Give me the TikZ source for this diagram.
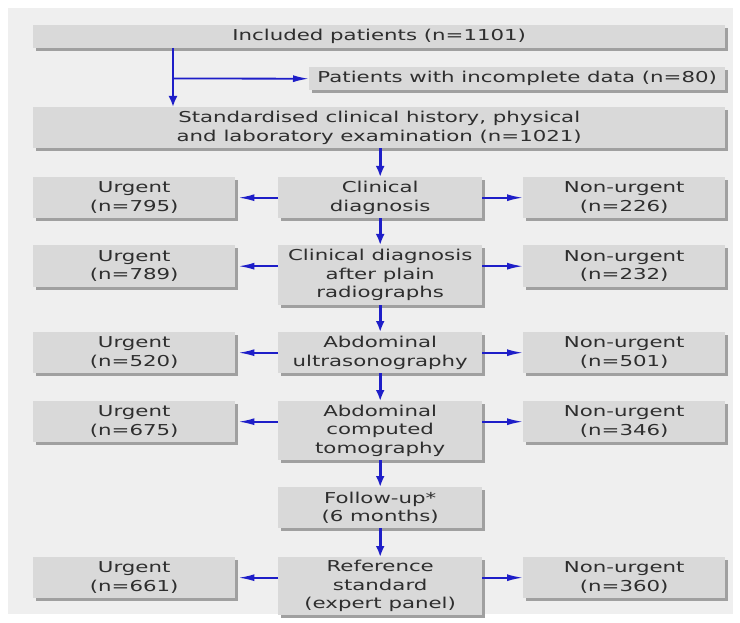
\documentclass[tikz,border=0pt]{standalone}
\usepackage{fontspec}
\setmainfont{DejaVu Sans}[FakeStretch=1.42]
\usetikzlibrary{arrows.meta}
\definecolor{panelbg}{HTML}{EFEFEF}
\definecolor{boxfill}{HTML}{D9D9D9}
\definecolor{boxshadow}{HTML}{A0A0A0}
\definecolor{arrowblue}{RGB}{30,30,200}
\definecolor{txt}{HTML}{2E2E2E}
\begin{document}
\begin{tikzpicture}[x=1pt,y=-1pt,
  box/.style={draw=none, fill=boxfill, text=txt, inner sep=0pt, align=center,
    anchor=north west, font=\fontsize{15}{18.5}\selectfont,
    preaction={fill=boxshadow, transform canvas={shift={(3pt,-3pt)}}}},
  varr/.style={draw=arrowblue, line width=2.6pt, -{Latex[length=11pt,width=9pt]}},
  harr/.style={draw=arrowblue, line width=1.8pt, -{Latex[length=16pt,width=7pt]}}]
\useasboundingbox (0,0) rectangle (740,623);
\fill[white] (0,0) rectangle (740,623);
\fill[panelbg] (8,8) rectangle (733,614);

\node[box, minimum width=692pt, minimum height=23pt] (inc) at (33,25) {Included patients (n=1101)};
\node[box, minimum width=416pt, minimum height=23pt] (inco) at (309,67) {Patients with incomplete data (n=80)};
\node[box, minimum width=692pt, minimum height=41pt] (std) at (33,107) {Standardised clinical history, physical\\and laboratory examination (n=1021)};

\node[box, minimum width=202pt, minimum height=41pt] (u1) at (33,177) {Urgent\\(n=795)};
\node[box, minimum width=204pt, minimum height=41pt] (c1) at (278,177) {Clinical\\diagnosis};
\node[box, minimum width=202pt, minimum height=41pt] (n1) at (523,177) {Non-urgent\\(n=226)};

\node[box, minimum width=202pt, minimum height=42pt] (u2) at (33,245) {Urgent\\(n=789)};
\node[box, minimum width=204pt, minimum height=60pt] (c2) at (278,245) {Clinical diagnosis\\after plain\\radiographs};
\node[box, minimum width=202pt, minimum height=42pt] (n2) at (523,245) {Non-urgent\\(n=232)};

\node[box, minimum width=202pt, minimum height=41pt] (u3) at (33,332) {Urgent\\(n=520)};
\node[box, minimum width=204pt, minimum height=41pt] (c3) at (278,332) {Abdominal\\ultrasonography};
\node[box, minimum width=202pt, minimum height=41pt] (n3) at (523,332) {Non-urgent\\(n=501)};

\node[box, minimum width=202pt, minimum height=41pt] (u4) at (33,401) {Urgent\\(n=675)};
\node[box, minimum width=204pt, minimum height=59pt] (c4) at (278,401) {Abdominal\\computed\\tomography};
\node[box, minimum width=202pt, minimum height=41pt] (n4) at (523,401) {Non-urgent\\(n=346)};

\node[box, minimum width=204pt, minimum height=41pt] (fu) at (278,487) {Follow-up*\\(6 months)};

\node[box, minimum width=202pt, minimum height=41pt] (u6) at (33,557) {Urgent\\(n=661)};
\node[box, minimum width=204pt, minimum height=58pt] (c6) at (278,557) {Reference\\standard\\(expert panel)};
\node[box, minimum width=202pt, minimum height=41pt] (n6) at (523,557) {Non-urgent\\(n=360)};

% top split
\coordinate (split) at (173,78.5);
\coordinate (inctop) at (173,48);
\draw[varr] (inctop) -- (std.north -| split);
\draw[harr] (split) -- (inco.west);

% vertical chain
\draw[varr] (std.south -| c1.north) -- (c1.north);
\draw[varr] (c1.south) -- (c2.north);
\draw[varr] (c2.south) -- (c3.north);
\draw[varr] (c3.south) -- (c4.north);
\draw[varr] (c4.south) -- (fu.north);
\draw[varr] (fu.south) -- (c6.north);

% side arrows
\draw[harr] (c1.west) -- ([xshift=3pt]u1.east);
\draw[harr] (c1.east) -- (n1.west);
\draw[harr] (c2.west |- u2.east) -- ([xshift=3pt]u2.east);
\draw[harr] (c2.east |- n2.west) -- (n2.west);
\draw[harr] (c3.west) -- ([xshift=3pt]u3.east);
\draw[harr] (c3.east) -- (n3.west);
\draw[harr] (c4.west |- u4.east) -- ([xshift=3pt]u4.east);
\draw[harr] (c4.east |- n4.west) -- (n4.west);
\draw[harr] (c6.west |- u6.east) -- ([xshift=3pt]u6.east);
\draw[harr] (c6.east |- n6.west) -- (n6.west);
\end{tikzpicture}
\end{document}
